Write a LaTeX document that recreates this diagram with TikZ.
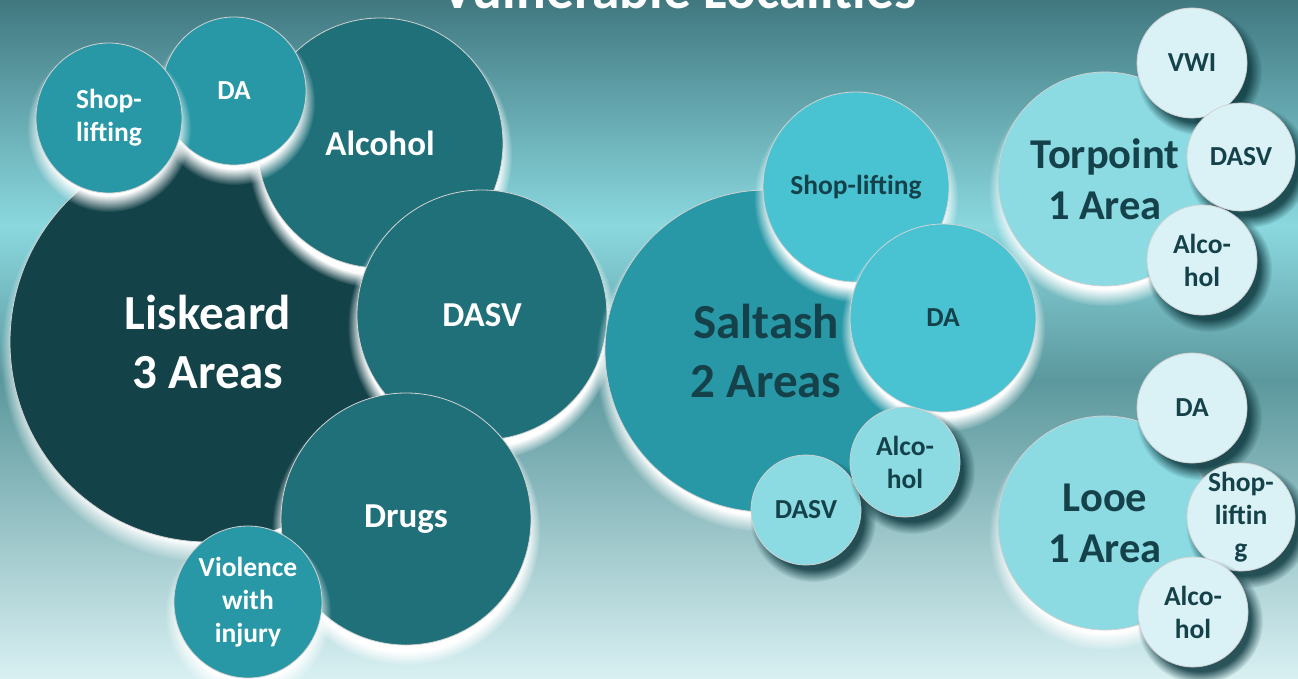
\documentclass[tikz,border=0pt]{standalone}
\usepackage{fontspec}
\setmainfont{Carlito}
\usetikzlibrary{shapes.geometric,fadings}
\definecolor{bgA}{HTML}{417880}
\definecolor{bgB}{HTML}{8BD8DF}
\definecolor{bgC}{HTML}{5B989D}
\definecolor{bgD}{HTML}{D8F0F2}
\definecolor{cDark}{HTML}{134249}
\definecolor{cMid}{HTML}{1F7079}
\definecolor{cTeal}{HTML}{2898A6}
\definecolor{cCyan}{HTML}{49C3D2}
\definecolor{cLight}{HTML}{8CDAE2}
\definecolor{cPale}{HTML}{DAF2F5}
\definecolor{cText}{HTML}{15424A}
\definecolor{cShadow}{HTML}{0E3A40}
\newcommand\wglow[5]{\fill[white,path fading=circle with fuzzy edge #5 percent] (#1,#2+11) ellipse [x radius=#3pt+9pt, y radius=#4pt+9pt];}
\newcommand\dshadow[3]{\fill[cShadow,opacity=0.85,path fading=circle with fuzzy edge 20 percent] (#1+7,#2+9) ellipse [x radius=#3pt+8pt, y radius=#3pt+8pt];}
\tikzset{
  bub/.style n args={3}{ellipse, draw=gray!35, line width=0.8pt, inner sep=-12pt,
     minimum width=#1pt, minimum height=#2pt, fill=#3, align=center},
  fbig/.style={font=\bfseries\fontsize{49}{59}\selectfont},
  freg/.style={font=\bfseries\fontsize{42.5}{51}\selectfont},
  fmid/.style={font=\bfseries\fontsize{35}{41}\selectfont},
  fsml/.style={font=\bfseries\fontsize{27.5}{33}\selectfont},
  wtxt/.style={text=white},
  dtxt/.style={text=cText},
}
\begin{document}
\begin{tikzpicture}[x=1pt,y=-1pt]
\useasboundingbox (0,0) rectangle (1298,678);
\clip (0,0) rectangle (1298,678);
% background
\fill[top color=bgA, bottom color=bgB] (0,0) rectangle (1298,226);
\fill[top color=bgB, bottom color=bgC] (0,225) rectangle (1298,381);
\fill[top color=bgC, bottom color=bgD] (0,380) rectangle (1298,678);
% title
\node[font=\bfseries\fontsize{55.5}{66}\selectfont, text=white, anchor=base] (title) at (679,8) {Vulnerable Localities};
% Liskeard cluster
\wglow{208}{342}{198}{200}{10}
\node[bub={396}{400}{cDark}, fbig, wtxt] (lisk) at (208,342) {Liskeard\\3 Areas};
\wglow{380}{143}{123}{125}{10}
\node[bub={246}{250}{cMid}, fmid, wtxt] (lalc) at (380,143) {Alcohol};
\wglow{234}{91}{72}{74}{20}
\node[bub={144}{148}{cTeal}, fsml, wtxt] (lda) at (234,91) {DA};
\wglow{109}{117}{73}{75}{20}
\node[bub={146}{150}{cTeal}, fsml, wtxt] (lshop) at (109,118) {Shop-\\lifting};
\wglow{482}{315}{125}{125}{10}
\node[bub={250}{250}{cMid}, fmid, wtxt] (ldasv) at (482,315) {DASV};
\wglow{406}{519}{125}{126}{10}
\node[bub={250}{252}{cMid}, fmid, wtxt] (ldrugs) at (406,519) {Drugs};
\wglow{248}{602}{74}{76}{20}
\node[bub={148}{152}{cTeal}, fsml, wtxt] (lviol) at (248,602) {Violence\\with\\injury};
% Saltash cluster
\wglow{766}{351}{161}{161}{10}
\node[bub={322}{322}{cTeal}, fbig, dtxt] (salt) at (766,351) {Saltash\\2 Areas};
\wglow{856}{187}{93}{95}{15}
\node[bub={186}{190}{cCyan}, fsml, dtxt] (sshop) at (856,187) {Shop-lifting};
\wglow{943}{318}{93}{94}{15}
\node[bub={186}{188}{cCyan}, fsml, dtxt] (sda) at (943,318) {DA};
\dshadow{806}{510}{55}
\node[bub={110}{110}{cLight}, fsml, dtxt] (sdasv) at (806,510) {DASV};
\dshadow{905}{462}{55}
\node[bub={110}{110}{cLight}, fsml, dtxt] (salc) at (905,462) {Alco-\\hol};
% Torpoint cluster
\wglow{1105}{179}{107}{107}{15}
\node[bub={214}{214}{cLight}, freg, dtxt] (torp) at (1105,179) {Torpoint\\1 Area};
\dshadow{1192}{63}{55}
\node[bub={110}{110}{cPale}, fsml, dtxt] (tvwi) at (1192,63) {VWI};
\dshadow{1241}{157}{54}
\node[bub={108}{108}{cPale}, fsml, dtxt] (tdasv) at (1241,157) {DASV};
\dshadow{1202}{260}{55}
\node[bub={110}{110}{cPale}, fsml, dtxt] (talc) at (1202,260) {Alco-\\hol};
% Looe cluster
\wglow{1105}{523}{107}{107}{15}
\node[bub={214}{214}{cLight}, freg, dtxt] (looe) at (1105,523) {Looe\\1 Area};
\dshadow{1192}{408}{55}
\node[bub={110}{110}{cPale}, fsml, dtxt] (lda2) at (1192,408) {DA};
\dshadow{1241}{517}{54}
\node[bub={108}{108}{cPale}, fsml, dtxt] (lshop2) at (1241,517) {Shop-\\liftin\\g};
\dshadow{1193}{612}{55}
\node[bub={110}{110}{cPale}, fsml, dtxt] (lalc2) at (1193,612) {Alco-\\hol};
\end{tikzpicture}
\end{document}
